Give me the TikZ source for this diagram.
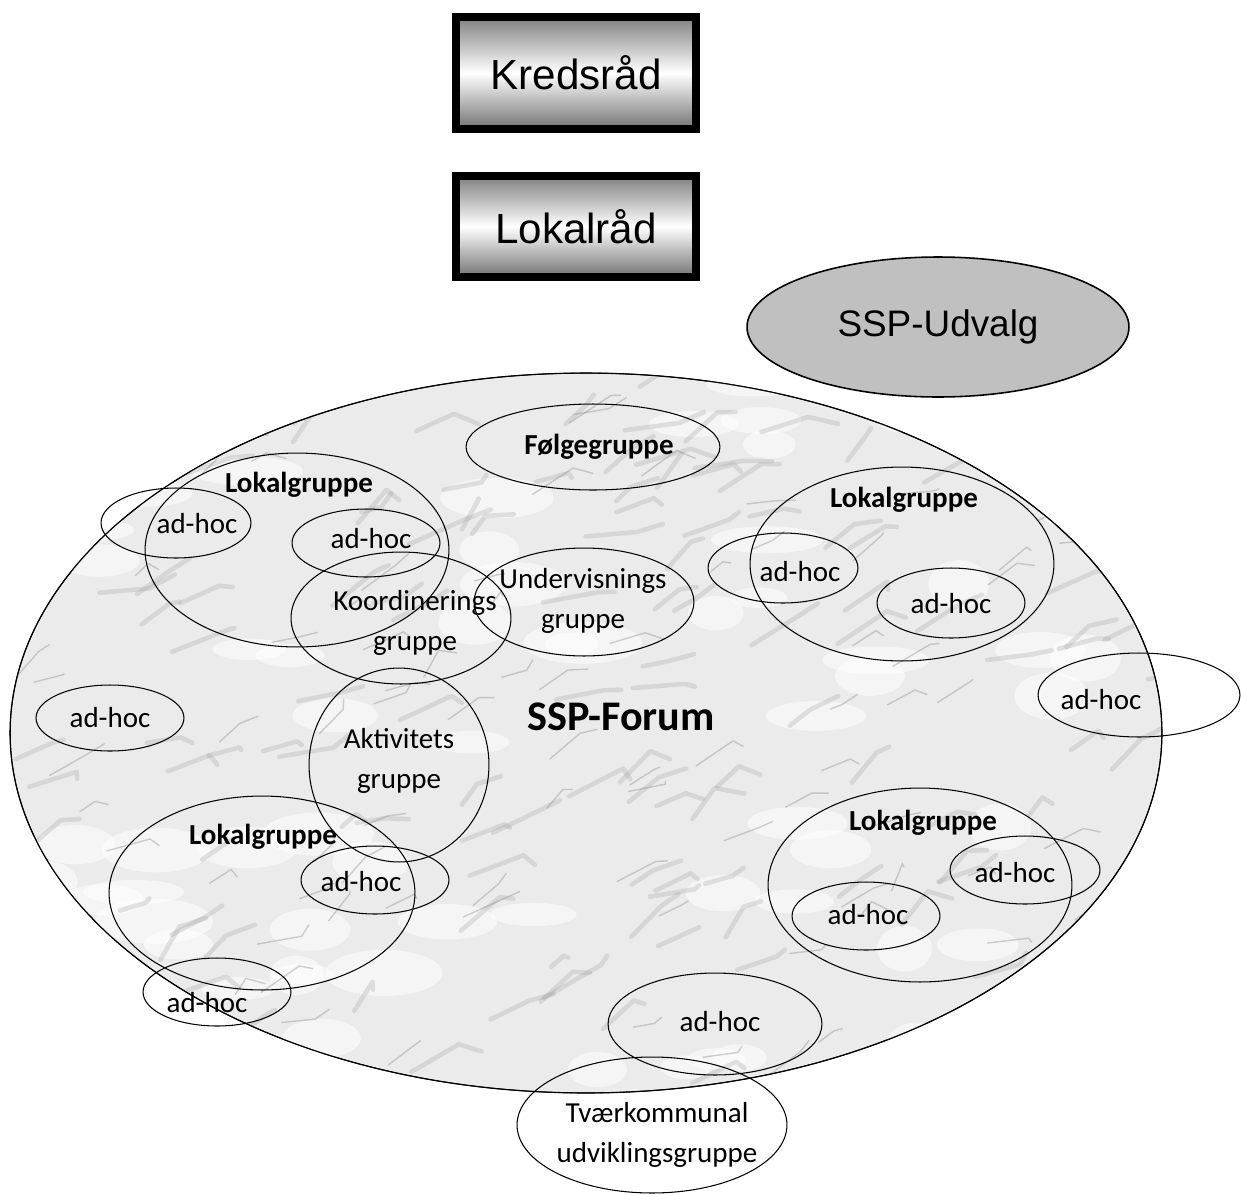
\documentclass[tikz,border=0pt]{standalone}
\usepackage{fontspec}
\setmainfont{Carlito}
\newfontfamily\arialfont{Liberation Sans}
\usetikzlibrary{shapes.geometric}
\definecolor{udvalggray}{RGB}{192,192,192}
\definecolor{boxgray}{RGB}{128,128,128}

\begin{document}
\begin{tikzpicture}[x=0.02cm, y=-0.02cm,
    grp/.style 2 args={shape=ellipse, draw, line width=0.6pt, inner sep=0pt,
      minimum width=#1*0.04cm, minimum height=#2*0.04cm},
    txt/.style={font=\fontsize{16.5}{23}\selectfont, align=center, inner sep=0pt},
    btxt/.style={font=\fontsize{16.5}{23}\selectfont\bfseries, inner sep=0pt},
    raad/.style={draw, line width=0.16cm, minimum width=4.8cm,
      top color=boxgray, bottom color=boxgray!90!black, middle color=white,
      font=\arialfont\fontsize{24}{28}\selectfont}]
    \useasboundingbox (0,0) rectangle (1241,1194);

    % the two councils
    \node[raad, minimum height=2.24cm] (kreds) at (576,73) {Kredsråd};
    \node[raad, minimum height=2.02cm] (lokal) at (576,226.5) {Lokalråd};

    % committee
    \node[shape=ellipse, draw, line width=0.9pt, fill=udvalggray,
      minimum width=7.64cm, minimum height=2.8cm,
      font=\arialfont\fontsize{21}{25}\selectfont] (udvalg) at (938,327) {SSP-Udvalg};

    % forum with marble look
    \node[grp={576}{360}, fill=black!8] (forum) at (586,733) {};
    \begin{scope}
      \clip (586,733) ellipse [x radius=576, y radius=360];
      \pgfmathsetseed{7}
      \foreach \k in {1,...,70}{
        \pgfmathsetmacro{\vx}{rnd*1160+10}
        \pgfmathsetmacro{\vy}{rnd*720+373}
        \fill[white, opacity=0.5] (\vx,\vy) ellipse [x radius=25+rnd*35, y radius=10+rnd*14];
      }
      \foreach \k in {1,...,130}{
        \pgfmathsetmacro{\vx}{rnd*1160+10}
        \pgfmathsetmacro{\vy}{rnd*720+373}
        \draw[black!35, line width=2.6pt, opacity=0.3, line cap=round, line join=round]
          (\vx,\vy) -- ++(12+rnd*45,-4-rnd*30) -- ++(rnd*30,12-rnd*26);
      }
      \foreach \k in {1,...,90}{
        \pgfmathsetmacro{\vx}{rnd*1160+10}
        \pgfmathsetmacro{\vy}{rnd*720+373}
        \draw[black!45, line width=0.8pt, opacity=0.4, line cap=round]
          (\vx,\vy) -- ++(10+rnd*35,-3-rnd*25) -- ++(rnd*20,8-rnd*20);
      }
    \end{scope}
    \draw[line width=0.6pt] (586,733) ellipse [x radius=576, y radius=360];
    \node[font=\fontsize{24}{28}\selectfont\bfseries] (forumt) at (621,717) {SSP-Forum};

    % groups inside the forum
    \node[grp={127}{43}] (foelg) at (593,447) {};
    \node[btxt] (foelgt) at (599,447) {Følgegruppe};

    \node[grp={152}{97}] (lg1) at (297,550) {};
    \node[btxt] (lg1t) at (299,485) {Lokalgruppe};
    \node[grp={75}{35}] (ah1) at (176,523) {};
    \node[txt] (ah1t) at (197,524) {ad-hoc};
    \node[grp={74}{34}] (ah2) at (366,543) {};
    \node[txt] (ah2t) at (371,539) {ad-hoc};

    \node[grp={110}{66}] (koord) at (401,618) {};
    \node[txt] (koordt) at (415,623) {Koordinerings\\gruppe};
    \node[grp={110}{54}] (underv) at (584,602) {};
    \node[txt] (undervt) at (583,601) {Undervisnings\\gruppe};
    \node[grp={90}{97}] (aktiv) at (399,765) {};
    \node[txt] (aktivt) at (399,761) {Aktivitets\\gruppe};

    \node[grp={74}{33}] (ah3) at (110,718) {};
    \node[txt] (ah3t) at (110,718) {ad-hoc};

    \node[grp={152}{97}] (lg2) at (902,564) {};
    \node[btxt] (lg2t) at (904,500) {Lokalgruppe};
    \node[grp={75}{35}] (ah4) at (783,568) {};
    \node[txt] (ah4t) at (800,572) {ad-hoc};
    \node[grp={74}{35}] (ah5) at (951,603) {};
    \node[txt] (ah5t) at (951,604) {ad-hoc};
    \node[grp={101}{42}] (ah6) at (1139,695) {};
    \node[txt] (ah6t) at (1101,700) {ad-hoc};

    \node[grp={153}{97}] (lg3) at (262,893) {};
    \node[btxt] (lg3t) at (263,837) {Lokalgruppe};
    \node[grp={74}{34}] (ah7) at (375,880) {};
    \node[txt] (ah7t) at (361,882) {ad-hoc};
    \node[grp={74}{34}] (ah8) at (217,992) {};
    \node[txt] (ah8t) at (207,1003) {ad-hoc};

    \node[grp={152}{97}] (lg4) at (920,885) {};
    \node[btxt] (lg4t) at (923,823) {Lokalgruppe};
    \node[grp={75}{34}] (ah9) at (1025,870) {};
    \node[txt] (ah9t) at (1015,873) {ad-hoc};
    \node[grp={74}{34}] (ah10) at (866,916) {};
    \node[txt] (ah10t) at (868,915) {ad-hoc};

    \node[grp={107}{51}] (ah11) at (715,1024) {};
    \node[txt] (ah11t) at (720,1022) {ad-hoc};

    \node[grp={135}{68}] (tvaer) at (652,1125) {};
    \node[txt] (tvaert) at (657,1135) {Tværkommunal\\udviklingsgruppe};
\end{tikzpicture}
\end{document}
